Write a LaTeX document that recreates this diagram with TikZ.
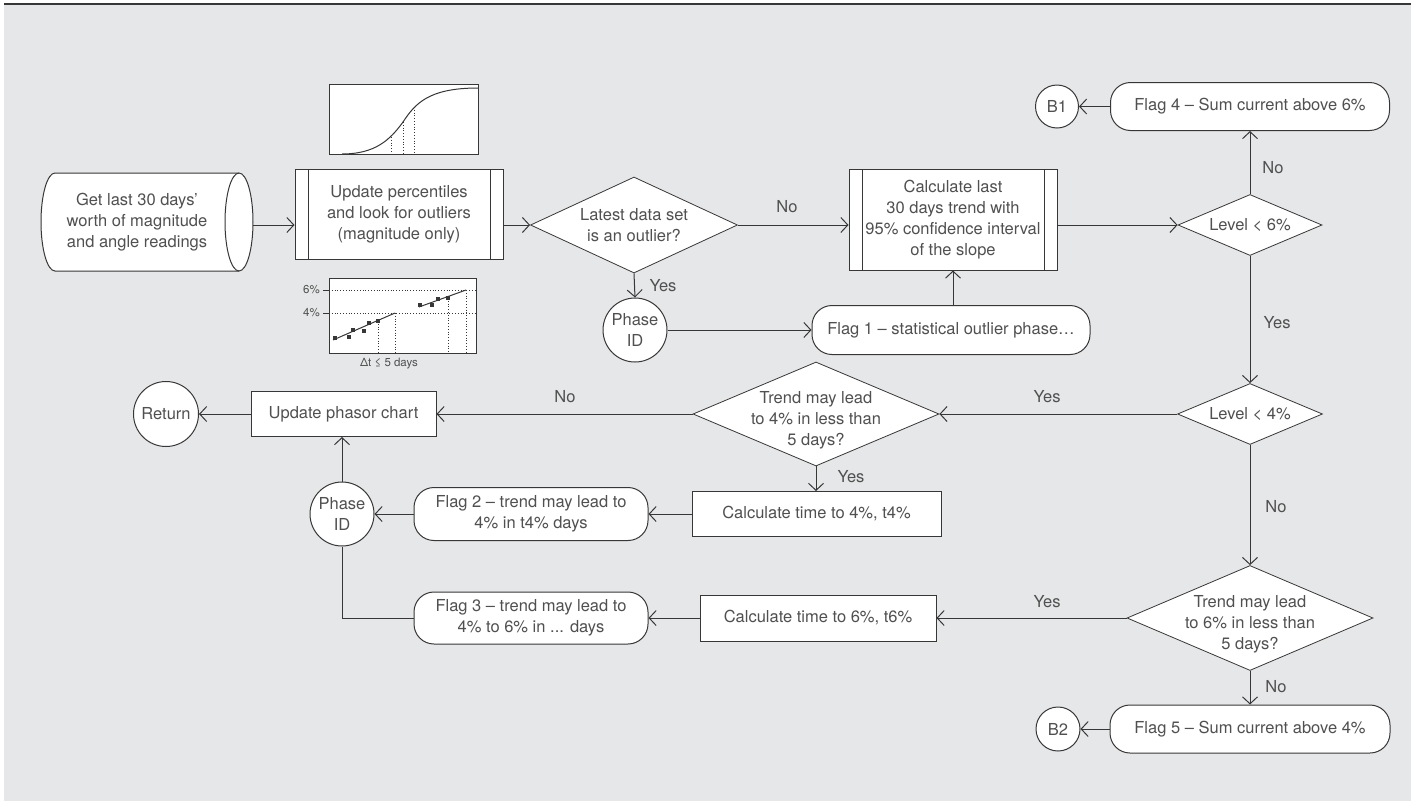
\documentclass[tikz,border=0pt]{standalone}
\usepackage{fontspec}
\setmainfont{TeX Gyre Heros}
\usetikzlibrary{shapes.geometric,arrows.meta}
\definecolor{bgc}{RGB}{230,231,232}
\definecolor{linec}{RGB}{55,55,55}
\definecolor{txtc}{RGB}{80,80,80}
\tikzset{
  ln/.style={draw=linec, line width=1pt},
  arr/.style={ln, -{Straight Barb[length=7pt,width=15pt]}},
  proc/.style={rectangle, draw=linec, line width=1pt, fill=white, align=center, inner sep=0pt},
  predef/.style={proc, path picture={
      \draw[ln] ([xshift=13pt]path picture bounding box.north west) -- ([xshift=13pt]path picture bounding box.south west)
                ([xshift=-13pt]path picture bounding box.north east) -- ([xshift=-13pt]path picture bounding box.south east);}},
  flag/.style={proc, rounded corners=20pt},
  decide/.style={diamond, draw=linec, line width=0.8pt, fill=white, align=center, inner sep=0pt, aspect=#1},
  dtext/.style={label={[align=center, yshift=-6pt]center:#1}},
  conn/.style={circle, draw=linec, line width=1pt, fill=white, align=center, inner sep=0pt},
  lbl/.style={inner sep=0pt},
  small/.style={font=\fontsize{11.5}{14}\selectfont}
}
\begin{document}
\begin{tikzpicture}[x=1pt,y=-1pt,font=\fontsize{16.5}{21}\selectfont,text=txtc]
  \useasboundingbox (0,0) rectangle (1411,801);
  \fill[bgc] (4,5) rectangle (1411,801);
  \draw[linec, line width=2pt] (4,4) -- (1411,4);

  % stored data
  \draw[ln, fill=white] (55,173) -- (239,173) arc[start angle=-90,end angle=90,x radius=14,y radius=49]
    -- (55,271) arc[start angle=90,end angle=270,x radius=14,y radius=49] -- cycle;
  \draw[ln] (239,173) arc[start angle=-90,end angle=-270,x radius=14,y radius=49];
  \node[align=center] (get) at (137,222) {Get last 30 days'\\worth of magnitude\\and angle readings};
  \coordinate (getout) at (253,225);

  % top row
  \node[predef, minimum width=208, minimum height=90] (upd) at (399,214) {Update percentiles\\and look for outliers\\(magnitude only)};
  \node[decide=2.16, minimum width=207, minimum height=96] (outl) at (634,225) {Latest data set\\is an outlier?};
  \node[predef, minimum width=208, minimum height=101] (trend) at (953,219.5) {Calculate last\\30 days trend with\\95\% confidence interval\\of the slope};
  \node[conn, minimum size=64] (phone) at (635,330) {Phase\\ID};
  \node[flag, minimum width=278, minimum height=49] (flagone) at (951,330) {Flag 1 – statistical outlier phase…};

  % right column
  \node[flag, minimum width=279, minimum height=48] (flagfour) at (1250,106.5) {Flag 4 – Sum current above 6\%};
  \node[conn, minimum size=43] (bone) at (1057,106.5) {B1};
  \node[decide=2.36, minimum width=144, minimum height=61] (lvlsix) at (1250,225) {Level < 6\%};
  \node[decide=2.36, minimum width=145, minimum height=61] (lvlfour) at (1250,414) {Level < 4\%};
  \node[decide=2.34, minimum width=246, minimum height=105, dtext={Trend may lead\\to 6\% in less than\\5 days?}] (trsix) at (1250,618) {};
  \node[flag, minimum width=280, minimum height=48] (flagfive) at (1250,729) {Flag 5 – Sum current above 4\%};
  \node[conn, minimum size=44] (btwo) at (1058,729) {B2};

  % middle
  \node[decide=2.36, minimum width=246, minimum height=104, dtext={Trend may lead\\to 4\% in less than\\5 days?}] (trfour) at (816,414) {};
  \node[proc, minimum width=249, minimum height=45] (calcfour) at (816.5,514) {Calculate time to 4\%, t4\%};
  \node[proc, minimum width=236, minimum height=46] (calcsix) at (818,618) {Calculate time to 6\%, t6\%};
  \node[flag, minimum width=234, minimum height=53] (flagtwo) at (531,514) {Flag 2 – trend may lead to\\4\% in t4\% days};
  \node[flag, minimum width=234, minimum height=52] (flagthree) at (531,618) {Flag 3 – trend may lead to\\4\% to 6\% in ... days};
  \node[conn, minimum size=64] (phtwo) at (342,514) {Phase\\ID};
  \node[proc, minimum width=185, minimum height=45] (phasor) at (343.5,414) {Update phasor chart};
  \node[conn, minimum size=65] (ret) at (166,414) {Return};

  % connectors
  \draw[arr] (getout) -- (upd.west |- getout);
  \draw[arr] (upd.east |- outl.west) -- (outl.west);
  \draw[arr] (outl.east) -- (trend.west |- outl.east);
  \draw[arr] (trend.east |- lvlsix.west) -- (lvlsix.west);
  \draw[arr] (outl.south) -- (phone.north);
  \draw[arr] (phone.east) -- (flagone.west);
  \draw[arr] (trend.south |- flagone.north) -- (trend.south);
  \draw[arr] (lvlsix.north) -- (flagfour.south);
  \draw[arr] (flagfour.west) -- (bone.east);
  \draw[arr] (lvlsix.south) -- (lvlfour.north);
  \draw[arr] (lvlfour.west) -- (trfour.east);
  \draw[arr] (trfour.west) -- (phasor.east);
  \draw[arr] (phasor.west) -- (ret.east);
  \draw[arr] (trfour.south) -- (calcfour.north -| trfour.south);
  \draw[arr] (calcfour.west) -- (flagtwo.east);
  \draw[arr] (flagtwo.west) -- (phtwo.east);
  \draw[arr] (phtwo.north) -- (phasor.south -| phtwo.north);
  \draw[arr] (lvlfour.south) -- (trsix.north);
  \draw[arr] (trsix.west) -- (calcsix.east);
  \draw[arr] (calcsix.west) -- (flagthree.east);
  \draw[ln] (flagthree.west) -| (phtwo.south);
  \draw[arr] (trsix.south) -- (flagfive.north);
  \draw[arr] (flagfive.west) -- (btwo.east);

  % branch labels
  \node[lbl] (nOne) at (787,207) {No};
  \node[lbl] (yOne) at (663,286) {Yes};
  \node[lbl] (nTwo) at (1273,168) {No};
  \node[lbl] (yTwo) at (1277,323) {Yes};
  \node[lbl] (yThree) at (1047,397) {Yes};
  \node[lbl] (nThree) at (565,397) {No};
  \node[lbl] (yFour) at (851,477) {Yes};
  \node[lbl] (nFour) at (1276,507) {No};
  \node[lbl] (yFive) at (1047,602) {Yes};
  \node[lbl] (nFive) at (1276,687) {No};

  % percentile curve
  \draw[ln, fill=white] (329,84) rectangle (478,154);
  \draw[ln] (342,154) .. controls (375,154) and (390,140) .. (403,122)
    .. controls (415,104) and (428,88) .. (478,88);
  \draw[linec, dotted, line width=0.8pt] (391,137)--(391,154) (403,122)--(403,154) (414,107)--(414,154);

  % trend sketch
  \draw[ln, fill=white] (329,278) rectangle (476,353);
  \draw[linec, dotted, line width=0.8pt] (329,290)--(476,290) (329,313)--(476,313)
    (378,321)--(378,353) (395,313)--(395,353) (448,298)--(448,353) (466,290)--(466,353);
  \draw[ln] (323,290)--(329,290) (323,313)--(329,313);
  \draw[ln] (333,340)--(395,313) (419,307)--(466,290);
  \foreach \px/\py in {335/338,349/337,353/330,364/331,369/323,378/321,420/305,432/305,438/299,448/298}
    \fill[linec] (\px-2.2,\py-2.2) rectangle (\px+2.2,\py+2.2);
  \node[lbl, small, anchor=east] (psix) at (320,290) {6\%};
  \node[lbl, small, anchor=east] (pfour) at (320,313) {4\%};
  \node[lbl, small] (dt) at (389,364) {Δt ≤ 5 days};
\end{tikzpicture}
\end{document}
